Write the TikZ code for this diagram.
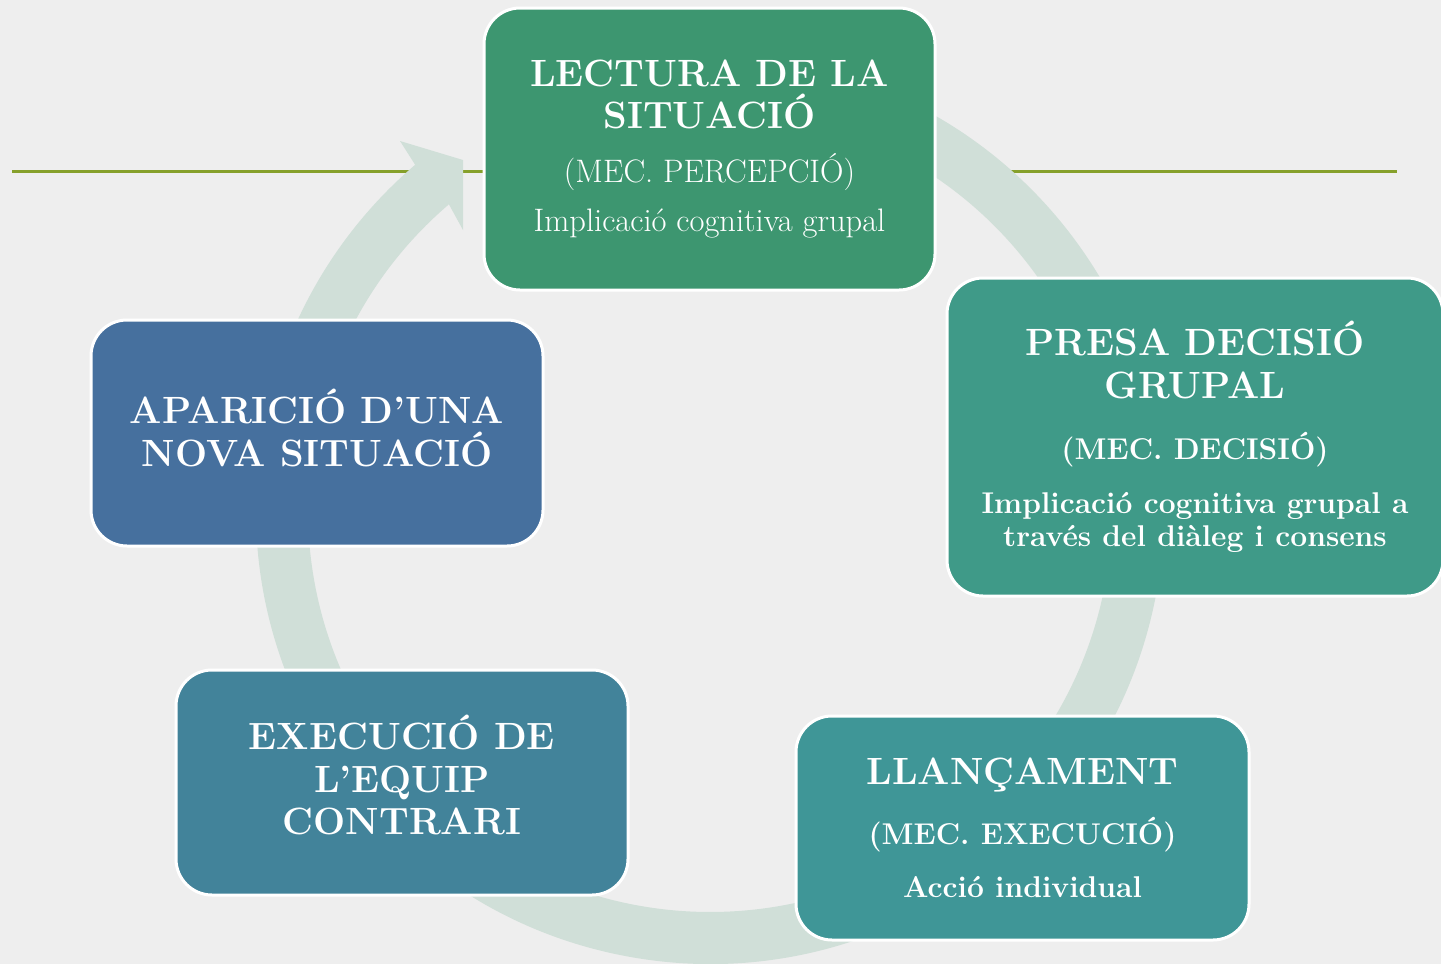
\documentclass[tikz,border=0pt]{standalone}
\usepackage{fontspec}
\usepackage{tikz}
\usepackage{xcolor}

\definecolor{fonsgris}{HTML}{EEEEEE}
\definecolor{liniaoliva}{HTML}{86A02B}
\definecolor{anell}{HTML}{D0DFD8}
\definecolor{verdlect}{HTML}{3D9670}
\definecolor{verdpresa}{HTML}{3F9A88}
\definecolor{blavllan}{HTML}{3F9697}
\definecolor{blavexec}{HTML}{42839A}
\definecolor{blavapar}{HTML}{46709E}

% una linia de text centrada: mida, interlineat, contingut
\newcommand{\linia}[3]{\fontsize{#1}{#2}\selectfont
    \spaceskip=0pt\xspaceskip=0pt\leftskip=0pt plus 1fil\rightskip=0pt plus 1fil\parfillskip=0pt
    {#3}\par}

\begin{document}
\begin{tikzpicture}[x=1pt, y=-1pt,
        etapa/.style={rectangle, rounded corners=36pt, draw=white, line width=3pt,
            text=white, align=center, inner sep=0pt, font={\parindent=0pt}},
    ]
        % fons i linia oliva
        \useasboundingbox (0,0) rectangle (1441,964);
        \clip (0,0) rectangle (1441,964);
        \fill[fonsgris] (0,0) rectangle (1441,964);
        \draw[liniaoliva, line width=3pt] (12,171) -- (1397,171);

        % anell amb la punta de fletxa
        \fill[anell] ([shift={(-80:454)}]710,510) arc[start angle=-80, end angle=229.5, radius=454]
            -- (400,141) -- (463,160) -- (463,230)
            -- ([shift={(229.5:402)}]710,510) arc[start angle=229.5, end angle=-80, radius=402] -- cycle;

        % etapes
        \node[etapa, fill=verdlect, minimum width=451pt, minimum height=282pt, text width=440pt] (lectura) at (709.5,149) {%
            \linia{38}{42}{\bfseries LECTURA DE LA}
            \linia{38}{42}{\bfseries SITUACIÓ}
            \linia{32.5}{54}{(MEC. PERCEPCIÓ)}
            \linia{32.5}{49}{Implicació cognitiva grupal}};

        \node[etapa, fill=verdpresa, minimum width=496pt, minimum height=318pt, text width=484pt] (presa) at (1195,437) {%
            \linia{38}{42}{\bfseries PRESA DECISIÓ}
            \linia{38}{43}{\bfseries GRUPAL}
            \linia{30}{61}{\bfseries (MEC. DECISIÓ)}
            \linia{30}{54}{\bfseries Implicació cognitiva grupal a}
            \linia{30}{33}{\bfseries través del diàleg i consens}};

        \node[etapa, fill=blavllan, minimum width=453pt, minimum height=224pt, text width=440pt] (llancament) at (1022.5,828) {%
            \linia{38}{42}{\bfseries LLANÇAMENT}
            \linia{30}{60}{\bfseries (MEC. EXECUCIÓ)}
            \linia{30}{53}{\bfseries Acció individual}};

        \node[etapa, fill=blavexec, minimum width=452pt, minimum height=225pt, text width=440pt] (execucio) at (402,782.5) {%
            \linia{38}{42}{\bfseries EXECUCIÓ DE}
            \linia{38}{43}{\bfseries L’EQUIP}
            \linia{38}{42}{\bfseries CONTRARI}
            \vspace{16pt}};

        \node[etapa, fill=blavapar, minimum width=452pt, minimum height=226pt, text width=440pt] (aparicio) at (317,433) {%
            \linia{38}{42}{\bfseries APARICIÓ D’UNA}
            \linia{38}{43}{\bfseries NOVA SITUACIÓ}
            \vspace{10pt}};
\end{tikzpicture}
\end{document}
